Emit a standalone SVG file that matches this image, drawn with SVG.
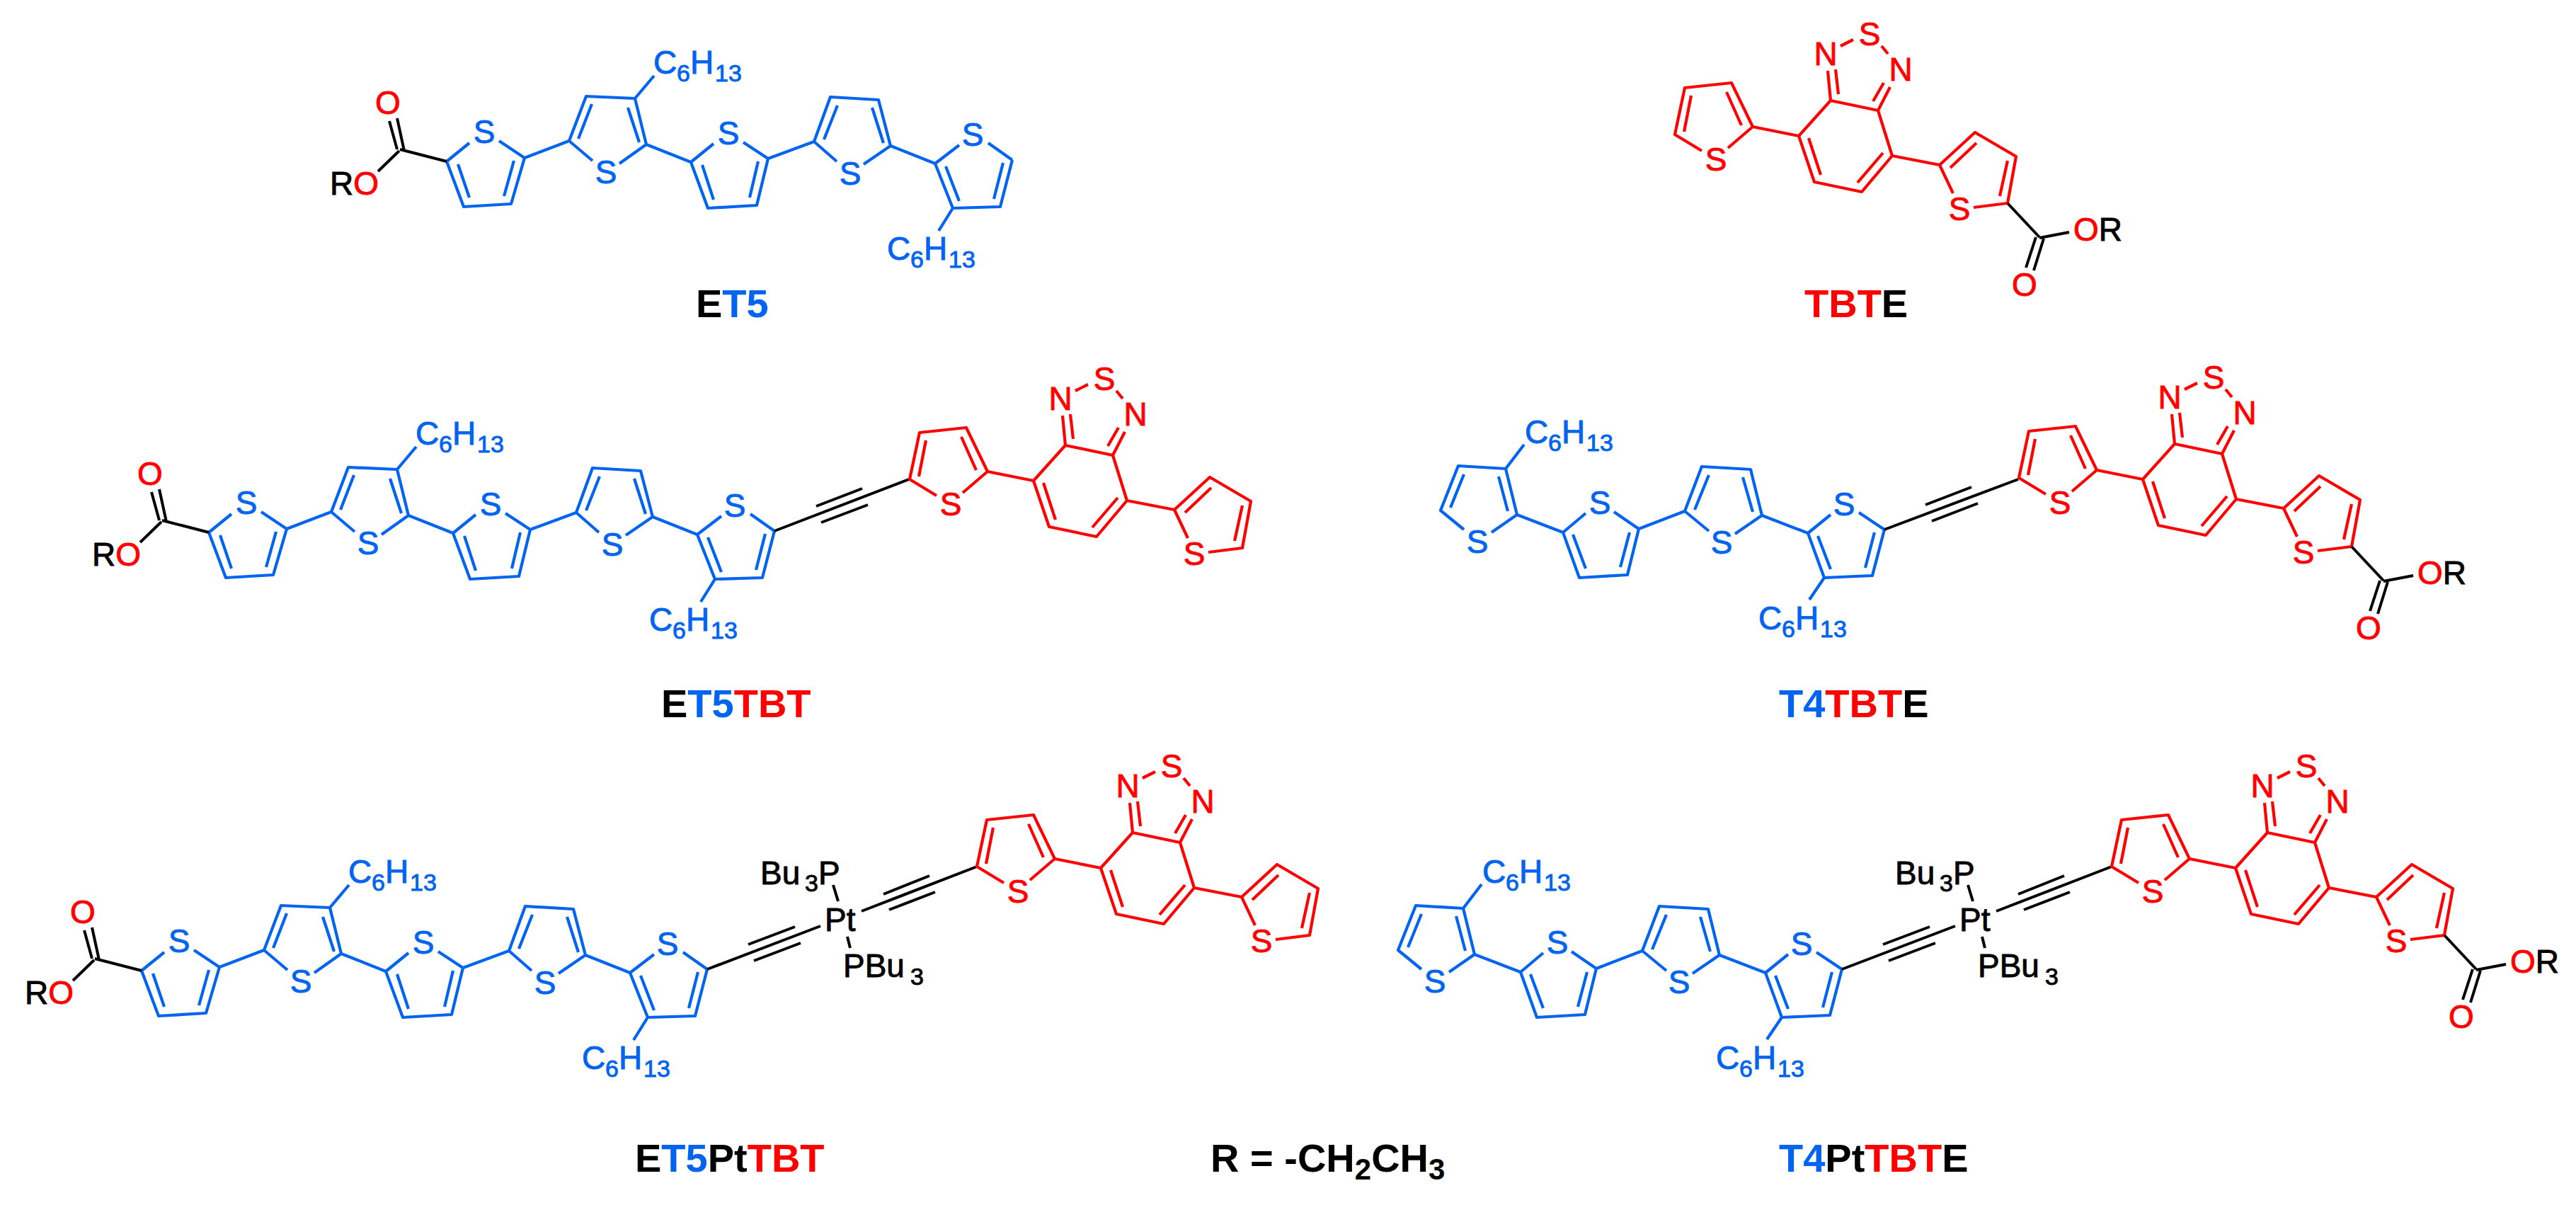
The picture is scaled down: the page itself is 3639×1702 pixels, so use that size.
<svg xmlns="http://www.w3.org/2000/svg" width="3639" height="1702" viewBox="0 0 3639 1702">
<style>
.bl{fill:none;stroke:#0064f0;stroke-width:4.2;stroke-linejoin:round}
.rd{fill:none;stroke:#ff0000;stroke-width:4.2;stroke-linejoin:round}
.bk{fill:none;stroke:#000;stroke-width:4;stroke-linejoin:round}
text{font-family:"Liberation Sans",Arial,sans-serif;font-size:46px;stroke-width:.9px}
.m{text-anchor:middle}
.b{fill:#0064f0;stroke:#0064f0}.r{fill:#ff0000;stroke:#ff0000}.k{fill:#000;stroke:#000}
.s{font-size:34px}
.l{font-weight:bold;font-size:56px}
.l,.l tspan{stroke:none}
.ls{font-size:42px}
</style>
<defs>
<path id="et5-bonds" class="bl" d="M631 228L655 292L722 288L741 223M631 228L663 202M741 223L705 199M647 232L663 279M726 227L712 277M741 223L804 199M804 199L828 136L897 139L913 204M804 199L837 227M913 204L875 231M836 147L817 196M887 152L903 201M897 139L924 107M913 204L976 229M976 229L1000 294L1069 290L1085 224M976 229L1008 203M1085 224L1050 201M992 233L1008 282M1071 228L1059 279M1085 224L1150 200M1150 200L1173 137L1241 141L1258 206M1150 200L1182 228M1258 206L1220 232M1183 149L1164 197M1232 152L1248 202M1258 206L1321 231M1321 231L1346 294L1413 292L1430 226M1321 231L1355 205M1430 226L1396 202M1336 235L1355 284M1417 230L1404 281M1346 294L1326 326"/>
<path id="et5-ester" class="bk" d="M550 171L561 211M561 167L571 213M564 213L534 242M565 211L631 228"/>
<path id="t4-bonds" class="bl" d="M2143 727L2127 662L2060 658L2035 721L2068 748M2143 727L2107 752M2117 673L2130 722M2068 670L2049 717M2127 662L2153 628M2143 727L2208 752M2208 752L2231 816L2299 812L2315 747M2208 752L2240 725M2315 747L2280 723M2222 755L2240 803M2302 752L2289 801M2315 747L2380 722M2380 722L2404 659L2473 663L2489 728M2380 722L2414 750M2489 728L2451 754M2414 671L2394 720M2462 674L2476 723M2489 728L2554 753M2554 753L2577 816L2645 813L2662 748M2554 753L2586 727M2662 748L2626 724M2568 757L2586 804M2648 752L2635 802M2577 816L2556 847"/>
<path id="tbt-bonds" class="rd" d="M2476 179L2446 117L2380 124L2366 190L2404 213M2476 179L2441 209M2439 130L2460 177M2389 135L2379 186M2476 179L2541 192M2586 142L2653 156L2673 220L2630 271L2563 257L2541 192L2586 142M2555 195L2572 247M2660 216L2624 258M2600 65L2618 56M2658 65L2667 76M2586 142L2582 100M2593 98L2597 133M2653 156L2670 123M2646 143L2661 117M2673 220L2740 233M2740 233L2790 187L2848 221L2836 287L2788 293M2740 233L2759 273M2755 237L2792 202M2836 227L2825 277"/>
<path id="tbt-ester" class="bk" d="M2836 287L2881 335M2881 336L2923 328M2876 335L2862 378M2887 337L2873 382"/>
<path id="pt-unit" class="bk" d="M999 1369L1159 1308M1057 1334L1123 1309M1065 1357L1131 1332M1217 1287L1380 1224M1248 1263L1313 1237M1256 1285L1321 1260M1177 1250L1184 1273M1197 1323L1201 1339"/>
</defs>

<g id="mol-ET5">
<use href="#et5-bonds"/><use href="#et5-ester"/>
<text x="548" y="161" class="m r">O</text>
<text x="466" y="275" class="k">R<tspan class="r">O</tspan></text>
<g class="b">
<text x="684" y="202" class="m">S</text><text x="856" y="259" class="m">S</text><text x="1029" y="204" class="m">S</text><text x="1201" y="261" class="m">S</text><text x="1374" y="206" class="m">S</text>
<text x="923" y="104">C<tspan class="s" x="956" y="115">6</tspan><tspan x="975" y="104">H</tspan><tspan class="s" x="1010" y="115">13</tspan></text>
<text x="1253" y="367">C<tspan class="s" x="1286" y="378">6</tspan><tspan x="1305" y="367">H</tspan><tspan class="s" x="1340" y="378">13</tspan></text>
</g>
<text x="983" y="448" class="l k">E<tspan class="b">T5</tspan></text>
</g>

<g id="mol-TBTE">
<use href="#tbt-bonds"/><use href="#tbt-ester"/>
<g class="r">
<text x="2424" y="241" class="m">S</text><text x="2579" y="92" class="m">N</text><text x="2685" y="114" class="m">N</text><text x="2641" y="64" class="m">S</text><text x="2768" y="311" class="m">S</text>
<text x="2860" y="418" class="m">O</text>
</g>
<text x="2929" y="340" class="r">O<tspan class="k">R</tspan></text>
<text x="2549" y="448" class="l r">TBT<tspan class="k">E</tspan></text>
</g>

<g id="mol-ET5TBT">
<g transform="translate(-336 524)">
<use href="#et5-bonds"/><use href="#et5-ester"/>
<text x="548" y="161" class="m r">O</text>
<text x="466" y="275" class="k">R<tspan class="r">O</tspan></text>
<g class="b">
<text x="684" y="202" class="m">S</text><text x="856" y="259" class="m">S</text><text x="1029" y="204" class="m">S</text><text x="1201" y="261" class="m">S</text><text x="1374" y="206" class="m">S</text>
<text x="923" y="104">C<tspan class="s" x="956" y="115">6</tspan><tspan x="975" y="104">H</tspan><tspan class="s" x="1010" y="115">13</tspan></text>
<text x="1253" y="367">C<tspan class="s" x="1286" y="378">6</tspan><tspan x="1305" y="367">H</tspan><tspan class="s" x="1340" y="378">13</tspan></text>
</g>
</g>
<path class="bk" d="M1094 750L1284 677M1153 715L1218 690M1160 738L1226 713"/>
<g transform="translate(-1081 487)">
<use href="#tbt-bonds"/>
<g class="r">
<text x="2424" y="241" class="m">S</text><text x="2579" y="92" class="m">N</text><text x="2685" y="114" class="m">N</text><text x="2641" y="64" class="m">S</text><text x="2768" y="311" class="m">S</text>
</g>
</g>
<text x="934" y="1013" class="l k">E<tspan class="b">T5</tspan><tspan class="r">TBT</tspan></text>
</g>

<g id="mol-T4TBTE">
<use href="#t4-bonds"/>
<g class="b">
<text x="2087" y="781" class="m">S</text><text x="2260" y="726" class="m">S</text><text x="2432" y="782" class="m">S</text><text x="2605" y="728" class="m">S</text>
<text x="2154" y="626">C<tspan class="s" x="2187" y="637">6</tspan><tspan x="2206" y="626">H</tspan><tspan class="s" x="2241" y="637">13</tspan></text>
<text x="2484" y="889">C<tspan class="s" x="2517" y="900">6</tspan><tspan x="2536" y="889">H</tspan><tspan class="s" x="2571" y="900">13</tspan></text>
</g>
<path class="bk" d="M2662 748L2851 677M2720 713L2785 688M2729 736L2794 711"/>
<g transform="translate(486 485)">
<use href="#tbt-bonds"/><use href="#tbt-ester"/>
<g class="r">
<text x="2424" y="241" class="m">S</text><text x="2579" y="92" class="m">N</text><text x="2685" y="114" class="m">N</text><text x="2641" y="64" class="m">S</text><text x="2768" y="311" class="m">S</text>
<text x="2860" y="418" class="m">O</text>
</g>
<text x="2929" y="340" class="r">O<tspan class="k">R</tspan></text>
</g>
<text x="2513" y="1013" class="l b">T4<tspan class="r">TBT</tspan><tspan class="k">E</tspan></text>
</g>

<g id="mol-ET5PtTBT">
<g transform="translate(-431 1143)">
<use href="#et5-bonds"/><use href="#et5-ester"/>
<text x="548" y="161" class="m r">O</text>
<text x="466" y="275" class="k">R<tspan class="r">O</tspan></text>
<g class="b">
<text x="684" y="202" class="m">S</text><text x="856" y="259" class="m">S</text><text x="1029" y="204" class="m">S</text><text x="1201" y="261" class="m">S</text><text x="1374" y="206" class="m">S</text>
<text x="923" y="104">C<tspan class="s" x="956" y="115">6</tspan><tspan x="975" y="104">H</tspan><tspan class="s" x="1010" y="115">13</tspan></text>
<text x="1253" y="367">C<tspan class="s" x="1286" y="378">6</tspan><tspan x="1305" y="367">H</tspan><tspan class="s" x="1340" y="378">13</tspan></text>
</g>
</g>
<use href="#pt-unit"/>
<g class="k">
<text x="1165" y="1315">Pt</text>
<text x="1074" y="1249">Bu<tspan class="s" x="1137" y="1259">3</tspan><tspan x="1156" y="1249">P</tspan></text>
<text x="1191" y="1380">PBu<tspan class="s" x="1286" y="1391">3</tspan></text>
</g>
<g transform="translate(-986 1034)">
<use href="#tbt-bonds"/>
<g class="r">
<text x="2424" y="241" class="m">S</text><text x="2579" y="92" class="m">N</text><text x="2685" y="114" class="m">N</text><text x="2641" y="64" class="m">S</text><text x="2768" y="311" class="m">S</text>
</g>
</g>
<text x="897" y="1655" class="l k">E<tspan class="b">T5</tspan>Pt<tspan class="r">TBT</tspan></text>
</g>

<g id="mol-T4PtTBTE">
<g transform="translate(-60 621)">
<use href="#t4-bonds"/>
<g class="b">
<text x="2087" y="781" class="m">S</text><text x="2260" y="726" class="m">S</text><text x="2432" y="782" class="m">S</text><text x="2605" y="728" class="m">S</text>
<text x="2154" y="626">C<tspan class="s" x="2187" y="637">6</tspan><tspan x="2206" y="626">H</tspan><tspan class="s" x="2241" y="637">13</tspan></text>
<text x="2484" y="889">C<tspan class="s" x="2517" y="900">6</tspan><tspan x="2536" y="889">H</tspan><tspan class="s" x="2571" y="900">13</tspan></text>
</g>
</g>
<use href="#pt-unit" transform="translate(1603 0)"/>
<g class="k" transform="translate(1603 0)">
<text x="1165" y="1315">Pt</text>
<text x="1074" y="1249">Bu<tspan class="s" x="1137" y="1259">3</tspan><tspan x="1156" y="1249">P</tspan></text>
<text x="1191" y="1380">PBu<tspan class="s" x="1286" y="1391">3</tspan></text>
</g>
<g transform="translate(617 1034)">
<use href="#tbt-bonds"/><use href="#tbt-ester"/>
<g class="r">
<text x="2424" y="241" class="m">S</text><text x="2579" y="92" class="m">N</text><text x="2685" y="114" class="m">N</text><text x="2641" y="64" class="m">S</text><text x="2768" y="311" class="m">S</text>
<text x="2860" y="418" class="m">O</text>
</g>
<text x="2929" y="340" class="r">O<tspan class="k">R</tspan></text>
</g>
<text x="2513" y="1655" class="l b">T4<tspan class="k">Pt</tspan><tspan class="r">TBT</tspan><tspan class="k">E</tspan></text>
</g>

<text id="r-definition" x="1710" y="1655" class="l k">R = -CH<tspan class="ls" dy="11">2</tspan><tspan dy="-11">CH</tspan><tspan class="ls" dy="11">3</tspan></text>
</svg>
